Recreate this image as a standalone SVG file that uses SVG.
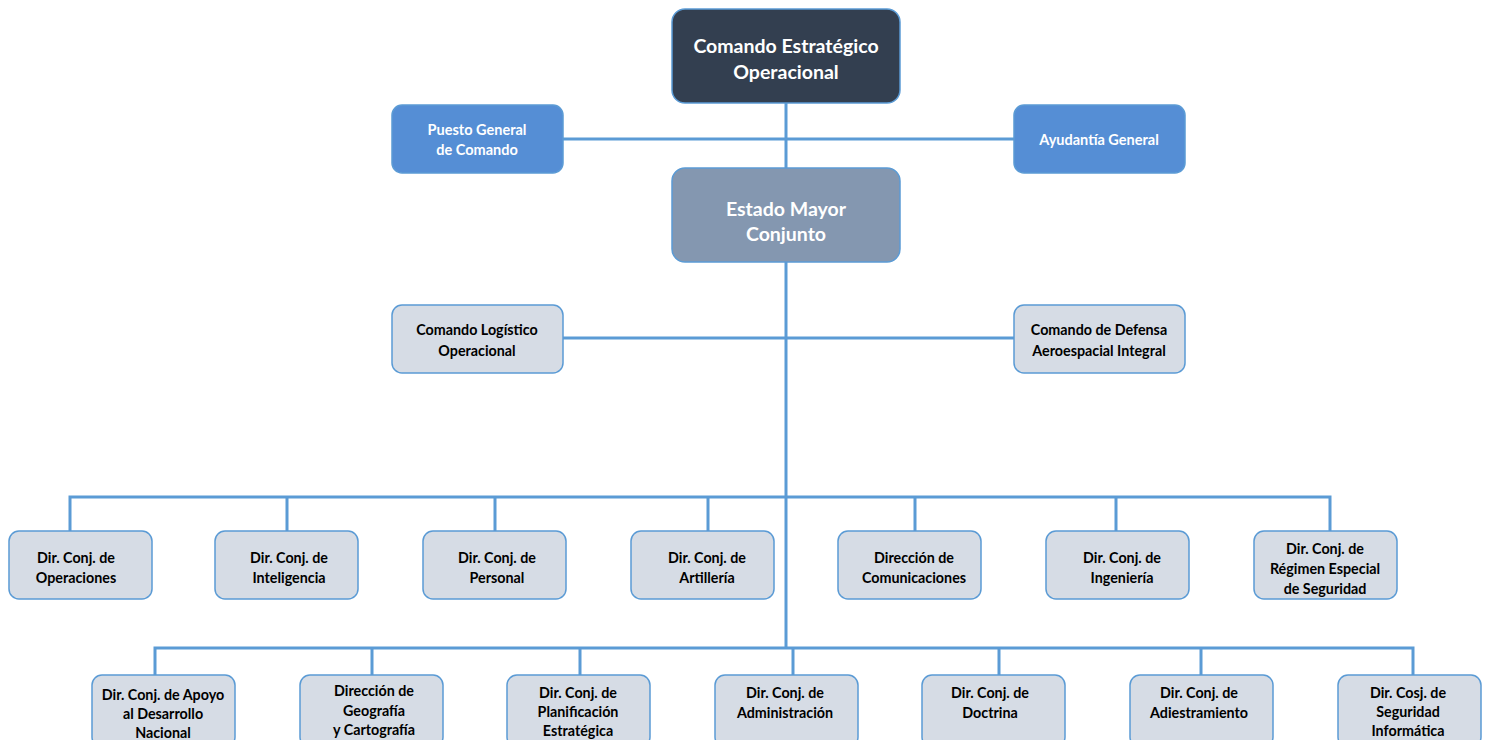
<svg xmlns="http://www.w3.org/2000/svg" width="1488" height="740" viewBox="0 0 1488 740">
<style>
.ln{stroke:#5b9bd5;stroke-width:3;fill:none}
.bx{fill:#d6dce5;stroke:#5b9bd5;stroke-width:1.5}
.top{fill:#333f50;stroke:#5b9bd5;stroke-width:1.5}
.em{fill:#8497b0;stroke:#5b9bd5;stroke-width:1.5}
.bl{fill:#558ed5;stroke:#5b9bd5;stroke-width:1.5}
text{font-family:Lato,"Liberation Sans",sans-serif;font-weight:bold;text-anchor:middle}
.t{font-size:14.3px;fill:#000}
.w{font-size:14.5px;fill:#fff}
.big{font-size:19.5px;fill:#fff}
</style>
<rect width="1488" height="740" fill="#fff"/>
<g id="connectors">
<path class="ln" d="M786 103V648"/>
<path class="ln" d="M563 139H1014"/>
<path class="ln" d="M563 338H1014"/>
<path class="ln" d="M70 531V497H1330V531M287 497V531M495 497V531M708 497V531M915 497V531M1116 497V531"/>
<path class="ln" d="M155 675V648H1413V675M372 648V675M580 648V675M793 648V675M999 648V675M1201 648V675"/>
</g>
<g id="n-ceo"><rect class="top" x="672" y="9" width="228" height="94" rx="13"/><text class="big" x="786" y="53">Comando Estratégico</text><text class="big" x="786" y="79">Operacional</text></g>
<g id="n-puesto"><rect class="bl" x="392" y="105" width="171" height="68" rx="10"/><text class="w" x="477" y="135">Puesto General</text><text class="w" x="477" y="155">de Comando</text></g>
<g id="n-ayud"><rect class="bl" x="1014" y="105" width="171" height="68" rx="10"/><text class="w" x="1099" y="145">Ayudantía General</text></g>
<g id="n-emc"><rect class="em" x="672" y="168" width="228" height="94" rx="13"/><text class="big" x="786" y="216">Estado Mayor</text><text class="big" x="786" y="241">Conjunto</text></g>
<g id="n-clo"><rect class="bx" x="392" y="305" width="171" height="68" rx="10"/><text class="t" x="477" y="335">Comando Logístico</text><text class="t" x="477" y="356">Operacional</text></g>
<g id="n-cdai"><rect class="bx" x="1014" y="305" width="171" height="68" rx="10"/><text class="t" x="1099" y="335">Comando de Defensa</text><text class="t" x="1099" y="356">Aeroespacial Integral</text></g>
<g id="n-ops"><rect class="bx" x="9" y="531" width="143" height="68" rx="10"/><text class="t" x="76" y="563">Dir. Conj. de</text><text class="t" x="76" y="583">Operaciones</text></g>
<g id="n-int"><rect class="bx" x="215" y="531" width="143" height="68" rx="10"/><text class="t" x="289" y="563">Dir. Conj. de</text><text class="t" x="289" y="583">Inteligencia</text></g>
<g id="n-per"><rect class="bx" x="423" y="531" width="143" height="68" rx="10"/><text class="t" x="497" y="563">Dir. Conj. de</text><text class="t" x="497" y="583">Personal</text></g>
<g id="n-art"><rect class="bx" x="631" y="531" width="143" height="68" rx="10"/><text class="t" x="707" y="563">Dir. Conj. de</text><text class="t" x="707" y="583">Artillería</text></g>
<g id="n-com"><rect class="bx" x="838" y="531" width="143" height="68" rx="10"/><text class="t" x="914" y="563">Dirección de</text><text class="t" x="914" y="583">Comunicaciones</text></g>
<g id="n-ing"><rect class="bx" x="1046" y="531" width="143" height="68" rx="10"/><text class="t" x="1122" y="563">Dir. Conj. de</text><text class="t" x="1122" y="583">Ingeniería</text></g>
<g id="n-res"><rect class="bx" x="1254" y="531" width="143" height="68" rx="10"/><text class="t" x="1325" y="554">Dir. Conj. de</text><text class="t" x="1325" y="574">Régimen Especial</text><text class="t" x="1325" y="594">de Seguridad</text></g>
<g id="n-apo"><rect class="bx" x="92" y="675" width="143" height="72" rx="10"/><text class="t" x="163" y="700">Dir. Conj. de Apoyo</text><text class="t" x="163" y="719">al Desarrollo</text><text class="t" x="163" y="737.5">Nacional</text></g>
<g id="n-geo"><rect class="bx" x="300" y="675" width="143" height="72" rx="10"/><text class="t" x="374" y="696">Dirección de</text><text class="t" x="374" y="716">Geografía</text><text class="t" x="374" y="735">y Cartografía</text></g>
<g id="n-pla"><rect class="bx" x="507" y="675" width="143" height="72" rx="10"/><text class="t" x="578" y="698">Dir. Conj. de</text><text class="t" x="578" y="717">Planificación</text><text class="t" x="578" y="736">Estratégica</text></g>
<g id="n-adm"><rect class="bx" x="715" y="675" width="143" height="72" rx="10"/><text class="t" x="785" y="698">Dir. Conj. de</text><text class="t" x="785" y="718">Administración</text></g>
<g id="n-doc"><rect class="bx" x="922" y="675" width="143" height="72" rx="10"/><text class="t" x="990" y="698">Dir. Conj. de</text><text class="t" x="990" y="718">Doctrina</text></g>
<g id="n-adi"><rect class="bx" x="1130" y="675" width="143" height="72" rx="10"/><text class="t" x="1199" y="698">Dir. Conj. de</text><text class="t" x="1199" y="718">Adiestramiento</text></g>
<g id="n-inf"><rect class="bx" x="1338" y="675" width="143" height="72" rx="10"/><text class="t" x="1408" y="698">Dir. Cosj. de</text><text class="t" x="1408" y="717">Seguridad</text><text class="t" x="1408" y="736">Informática</text></g>
</svg>
